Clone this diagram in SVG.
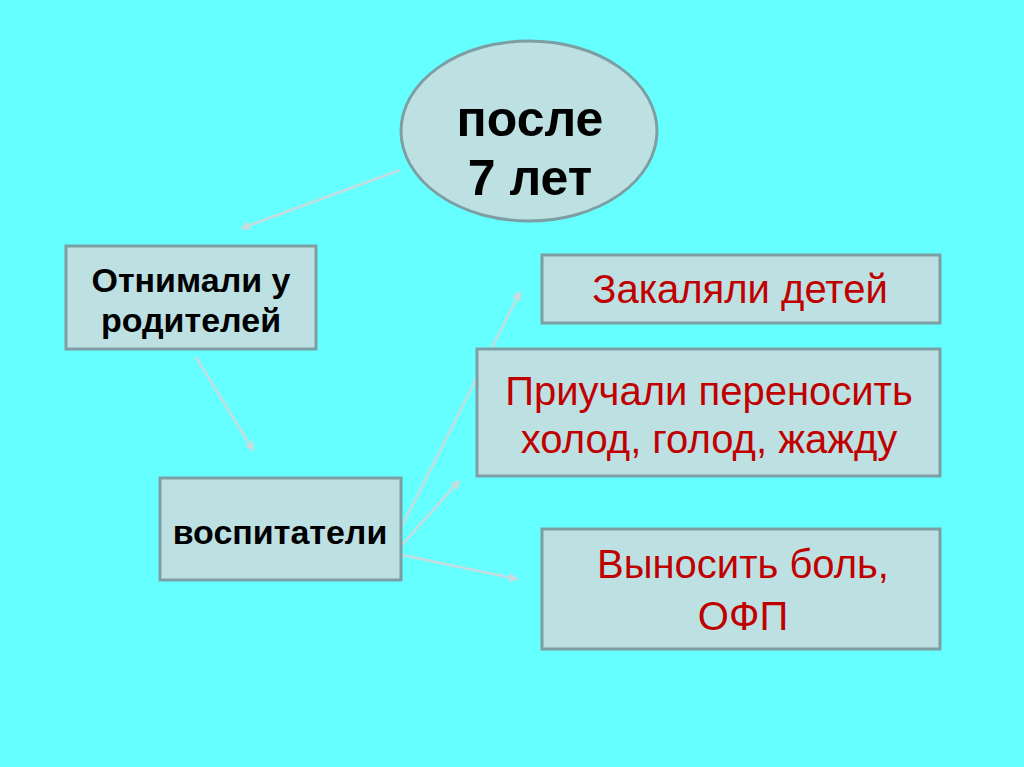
<svg xmlns="http://www.w3.org/2000/svg" width="1024" height="767" viewBox="0 0 1024 767">
<style>
.box{fill:#bde0e3;stroke:#7d9fa3;stroke-width:3}
.bk{font-family:"Liberation Sans",Arial,sans-serif;font-weight:bold;fill:#000;text-anchor:middle}
.rd{font-family:"Liberation Sans",Arial,sans-serif;fill:#c00000;text-anchor:middle;font-size:40px}
.cn{stroke:#c6dcdf;stroke-width:2.5;fill:none;marker-end:url(#ah)}
</style>
<defs>
<marker id="ah" viewBox="0 0 10 10" refX="8" refY="5" markerWidth="4" markerHeight="4" orient="auto" markerUnits="strokeWidth">
<path d="M0,0 L10,5 L0,10 z" fill="#c6dcdf"/>
</marker>
</defs>
<rect width="1024" height="767" fill="#66ffff"/>
<g id="connectors">
<line class="cn" x1="400" y1="170" x2="242" y2="228"/>
<line class="cn" x1="196" y1="357" x2="253" y2="450"/>
<line class="cn" x1="401" y1="528" x2="520" y2="292"/>
<line class="cn" x1="402" y1="545" x2="459" y2="481"/>
<line class="cn" x1="402" y1="555" x2="517" y2="579"/>
</g>
<g id="n-posle">
<ellipse cx="529" cy="131" rx="128" ry="90" class="box"/>
<text class="bk" x="530" y="136" font-size="50">после</text>
<text class="bk" x="530" y="195" font-size="50">7 лет</text>
</g>
<g id="n-otnimali">
<rect class="box" x="66" y="246" width="250" height="103"/>
<text class="bk" x="191" y="292" font-size="34">Отнимали у</text>
<text class="bk" x="191" y="332" font-size="34">родителей</text>
</g>
<g id="n-vospitateli">
<rect class="box" x="160" y="478" width="241" height="102"/>
<text class="bk" x="280" y="544" font-size="34">воспитатели</text>
</g>
<g id="n-zakalyali">
<rect class="box" x="542" y="255" width="398" height="68"/>
<text class="rd" x="740" y="303">Закаляли детей</text>
</g>
<g id="n-priuchali">
<rect class="box" x="477" y="349" width="463" height="127"/>
<text class="rd" x="709" y="405">Приучали переносить</text>
<text class="rd" x="709" y="453">холод, голод, жажду</text>
</g>
<g id="n-vynosit">
<rect class="box" x="542" y="529" width="398" height="120"/>
<text class="rd" x="743" y="578">Выносить боль,</text>
<text class="rd" x="743" y="630">ОФП</text>
</g>
</svg>
